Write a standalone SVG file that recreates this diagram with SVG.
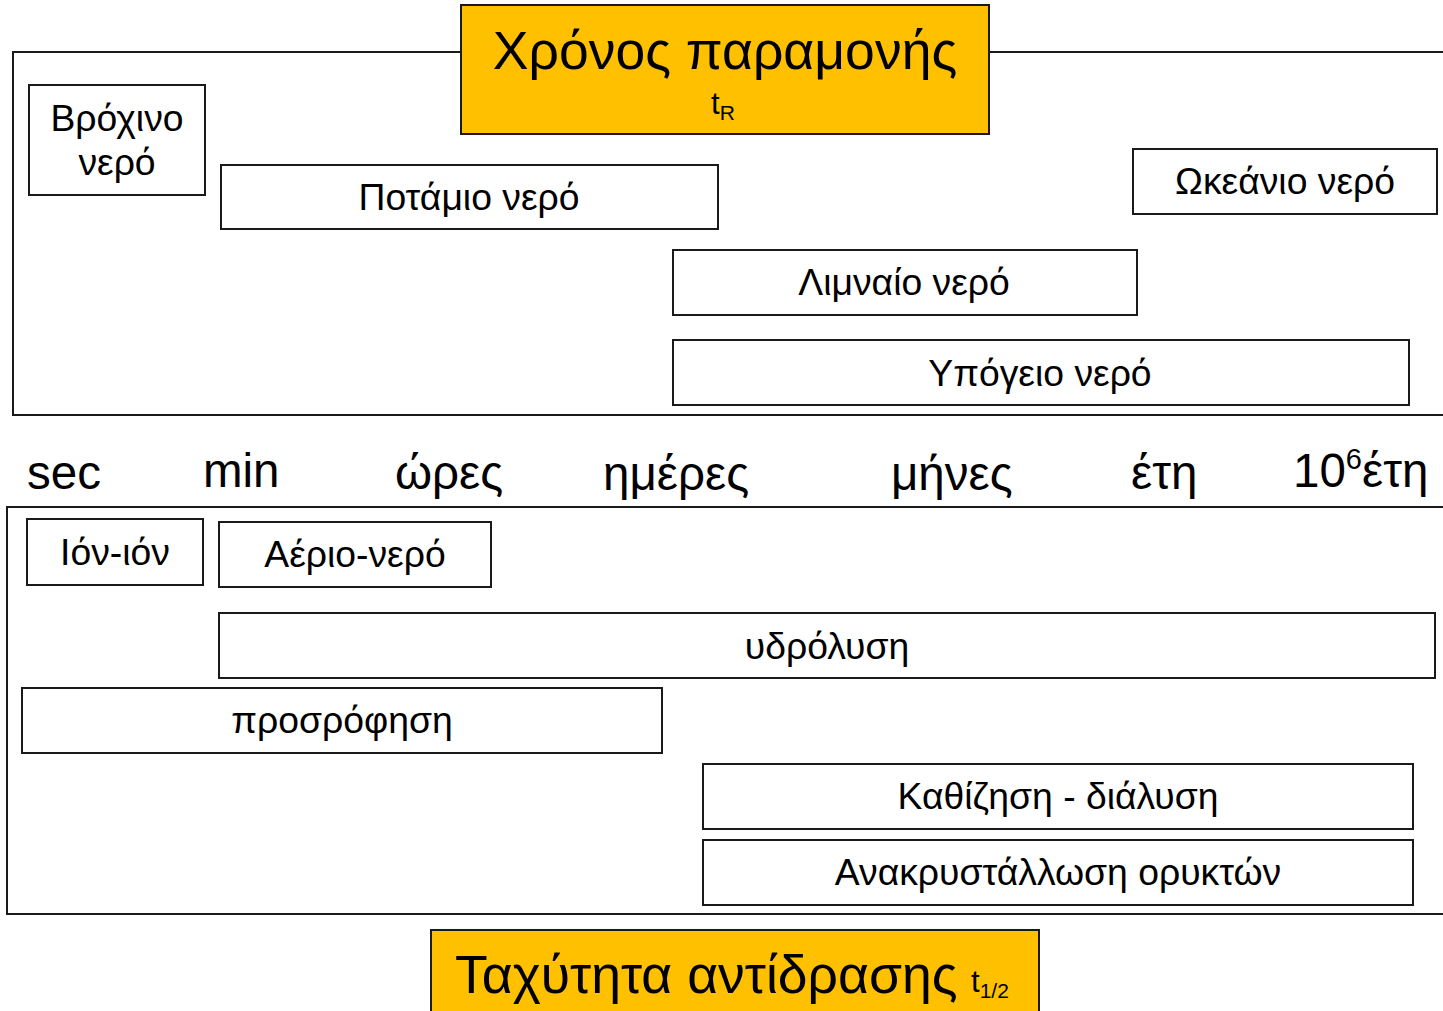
<svg xmlns="http://www.w3.org/2000/svg" width="1443" height="1011" viewBox="0 0 1443 1011">
<style>
text{font-family:"Liberation Sans",Arial,sans-serif;fill:#000}
.box{fill:#fff;stroke:#1a1a1a;stroke-width:2}
.title{fill:#FFC000;stroke:#1a1a1a;stroke-width:2}
.frame{fill:none;stroke:#1a1a1a;stroke-width:2}
.lbl{font-size:37.3px;text-anchor:middle}
.ax{font-size:47.5px}
</style>
<rect width="1443" height="1011" fill="#fff"/>
<g id="frames">
<path class="frame" d="M1443,52 H13 V415 H1443"/>
<path class="frame" d="M1443,507 H7 V914 H1443"/>
</g>
<g id="title-top"><rect class="title" x="461" y="5" width="528" height="129"/>
<text x="725" y="69" font-size="53.5" text-anchor="middle">Χρόνος παραμονής</text>
<text x="711" y="114" font-size="31">t<tspan font-size="21" dy="6">R</tspan></text></g>
<g id="n-rain"><rect class="box" x="29" y="85" width="176" height="110"/>
<text class="lbl" x="117" y="131">Βρόχινο</text><text class="lbl" x="117" y="175">νερό</text></g>
<g id="n-river"><rect class="box" x="221" y="165" width="497" height="64"/><text class="lbl" x="469" y="210">Ποτάμιο νερό</text></g>
<g id="n-ocean"><rect class="box" x="1133" y="149" width="304" height="65"/><text class="lbl" x="1285" y="194">Ωκεάνιο νερό</text></g>
<g id="n-lake"><rect class="box" x="673" y="250" width="464" height="65"/><text class="lbl" x="904" y="295">Λιμναίο νερό</text></g>
<g id="n-ground"><rect class="box" x="673" y="340" width="736" height="65"/><text class="lbl" x="1040" y="386">Υπόγειο νερό</text></g>
<g id="axis">
<text class="ax" x="27" y="489">sec</text>
<text class="ax" x="203" y="487">min</text>
<text class="ax" x="395" y="489">ώρες</text>
<text class="ax" x="603" y="490">ημέρες</text>
<text class="ax" x="891" y="490">μήνες</text>
<text class="ax" x="1131" y="489">έτη</text>
<text class="ax" x="1293" y="487">10<tspan font-size="29" dy="-18">6</tspan><tspan dy="18">έτη</tspan></text>
</g>
<g id="n-ion"><rect class="box" x="27" y="519" width="176" height="66"/><text class="lbl" x="115" y="565">Ιόν-ιόν</text></g>
<g id="n-gas"><rect class="box" x="219" y="522" width="272" height="65"/><text class="lbl" x="355" y="567">Αέριο-νερό</text></g>
<g id="n-hydro"><rect class="box" x="219" y="613" width="1216" height="65"/><text class="lbl" x="827" y="659">υδρόλυση</text></g>
<g id="n-sorp"><rect class="box" x="22" y="688" width="640" height="65"/><text class="lbl" x="342" y="733">προσρόφηση</text></g>
<g id="n-prec"><rect class="box" x="703" y="764" width="710" height="65"/><text class="lbl" x="1058" y="809">Καθίζηση - διάλυση</text></g>
<g id="n-recr"><rect class="box" x="703" y="840" width="710" height="65"/><text class="lbl" x="1058" y="885">Ανακρυστάλλωση ορυκτών</text></g>
<g id="title-bottom"><rect class="title" x="431" y="930" width="608" height="90"/>
<text x="455" y="993" font-size="53.5">Ταχύτητα αντίδρασης</text>
<text x="971" y="992" font-size="31">t<tspan font-size="21" dy="6">1/2</tspan></text></g>
</svg>
